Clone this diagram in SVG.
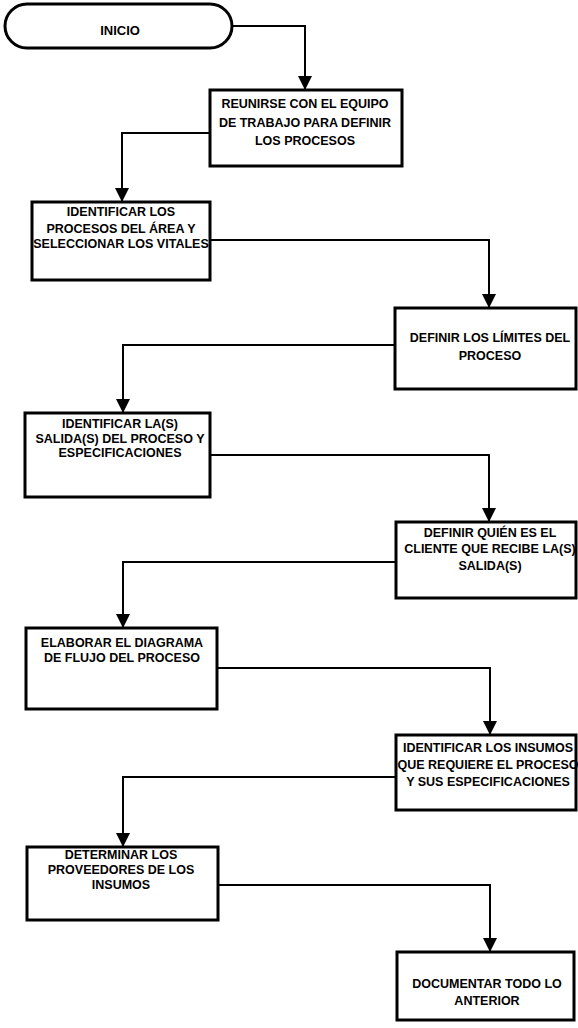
<svg xmlns="http://www.w3.org/2000/svg" width="578" height="1028" viewBox="0 0 578 1028">
<style>
.box{fill:#fff;stroke:#000;stroke-width:3}
.t{font-family:"Liberation Sans",Arial,sans-serif;font-weight:bold;font-size:12.5px;fill:#000;text-anchor:middle}
.c{fill:none;stroke:#000;stroke-width:2}
</style>
<defs>
<marker id="ah" markerUnits="userSpaceOnUse" markerWidth="14" markerHeight="16" viewBox="0 0 14 16" refX="14" refY="8" orient="auto">
<path d="M0,1 L14,8 L0,15 Z" fill="#000"/>
</marker>
</defs>
<rect width="578" height="1028" fill="#fff"/>
<g id="connectors">
<path class="c" d="M232,26 H305 V90" marker-end="url(#ah)"/>
<path class="c" d="M210,133 H122 V202" marker-end="url(#ah)"/>
<path class="c" d="M210,240 H489 V308" marker-end="url(#ah)"/>
<path class="c" d="M395,345 H123 V413" marker-end="url(#ah)"/>
<path class="c" d="M210,455 H489 V522" marker-end="url(#ah)"/>
<path class="c" d="M396,562 H123 V628" marker-end="url(#ah)"/>
<path class="c" d="M217,668 H490 V735" marker-end="url(#ah)"/>
<path class="c" d="M396,777 H123 V847" marker-end="url(#ah)"/>
<path class="c" d="M218,885 H490 V952" marker-end="url(#ah)"/>
</g>
<g id="inicio">
<rect class="box" x="5" y="4" width="227" height="44" rx="22" ry="22"/>
<text class="t" x="120" y="35" style="font-size:13px">INICIO</text>
</g>
<g id="n1">
<rect class="box" x="210" y="90" width="192" height="76"/>
<text class="t" x="305" y="108">REUNIRSE CON EL EQUIPO</text>
<text class="t" x="305" y="127">DE TRABAJO PARA DEFINIR</text>
<text class="t" x="305" y="145">LOS PROCESOS</text>
</g>
<g id="n2">
<rect class="box" x="32" y="202" width="178" height="78"/>
<text class="t" x="121" y="216">IDENTIFICAR LOS</text>
<text class="t" x="121" y="233">PROCESOS DEL ÁREA Y</text>
<text class="t" x="121" y="248">SELECCIONAR LOS VITALES</text>
</g>
<g id="n3">
<rect class="box" x="395" y="308" width="181" height="81"/>
<text class="t" x="490" y="342">DEFINIR LOS LÍMITES DEL</text>
<text class="t" x="490" y="360">PROCESO</text>
</g>
<g id="n4">
<rect class="box" x="25" y="413" width="185" height="84"/>
<text class="t" x="120" y="428">IDENTIFICAR LA(S)</text>
<text class="t" x="120" y="443">SALIDA(S) DEL PROCESO Y</text>
<text class="t" x="120" y="457">ESPECIFICACIONES</text>
</g>
<g id="n5">
<rect class="box" x="396" y="522" width="180" height="76"/>
<text class="t" x="490" y="537">DEFINIR QUIÉN ES EL</text>
<text class="t" x="490" y="553">CLIENTE QUE RECIBE LA(S)</text>
<text class="t" x="490" y="570">SALIDA(S)</text>
</g>
<g id="n6">
<rect class="box" x="26" y="628" width="191" height="81"/>
<text class="t" x="122" y="647">ELABORAR EL DIAGRAMA</text>
<text class="t" x="122" y="662">DE FLUJO DEL PROCESO</text>
</g>
<g id="n7">
<rect class="box" x="396" y="735" width="180" height="75"/>
<text class="t" x="488" y="752">IDENTIFICAR LOS INSUMOS</text>
<text class="t" x="488" y="769">QUE REQUIERE EL PROCESO</text>
<text class="t" x="488" y="786">Y SUS ESPECIFICACIONES</text>
</g>
<g id="n8">
<rect class="box" x="27" y="847" width="191" height="73"/>
<text class="t" x="121" y="859">DETERMINAR LOS</text>
<text class="t" x="121" y="874">PROVEEDORES DE LOS</text>
<text class="t" x="121" y="889">INSUMOS</text>
</g>
<g id="n9">
<rect class="box" x="397" y="952" width="177" height="68"/>
<text class="t" x="487" y="988">DOCUMENTAR TODO LO</text>
<text class="t" x="487" y="1005">ANTERIOR</text>
</g>
</svg>
